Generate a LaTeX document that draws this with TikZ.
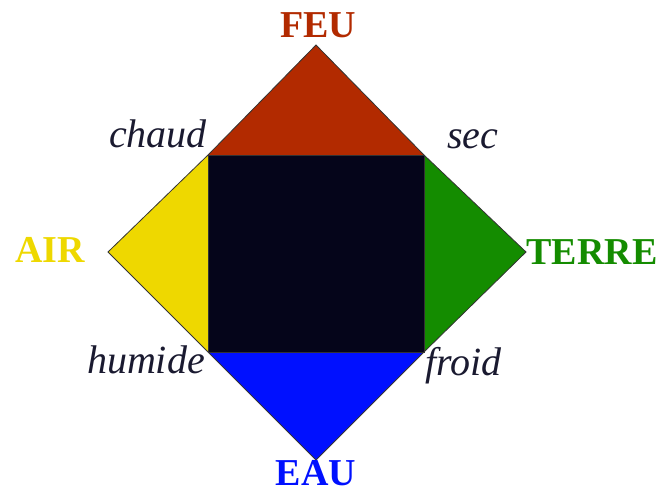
\documentclass[tikz,border=0pt]{standalone}
\usepackage{fontspec}
\setmainfont{Liberation Serif}
\usetikzlibrary{positioning}
\definecolor{FeuRed}{HTML}{B22A00}
\definecolor{AirYellow}{HTML}{EED800}
\definecolor{TerreGreen}{HTML}{148C00}
\definecolor{EauBlue}{HTML}{0010FF}
\definecolor{CoreDark}{HTML}{05051A}
\definecolor{QualInk}{HTML}{1A1A30}
\tikzset{
  element/.style={font=\fontsize{38}{40}\selectfont\bfseries, inner sep=0pt, anchor=base},
  quality/.style={font=\fontsize{40}{42}\selectfont\itshape, text=QualInk, inner sep=0pt, anchor=base},
  wedge/.style={draw=black!80, line width=0.8pt, line join=miter}
}

\begin{document}
\begin{tikzpicture}[x=1pt, y=-1pt]
\useasboundingbox (0,0) rectangle (658,494);

% corners of the inner square and outer apices
\coordinate (nw) at (208,155);
\coordinate (ne) at (424,155);
\coordinate (se) at (424,352);
\coordinate (sw) at (208,352);
\coordinate (top) at (316,45);
\coordinate (left) at (108,252);
\coordinate (right) at (526,252);
\coordinate (bottom) at (316,460);

\fill[FeuRed] (nw) -- (top) -- (ne) -- cycle;
\fill[AirYellow] (nw) -- (left) -- (sw) -- cycle;
\fill[TerreGreen] (ne) -- (right) -- (se) -- cycle;
\fill[EauBlue] (sw) -- (bottom) -- (se) -- cycle;
\fill[CoreDark] (nw) rectangle (se);
\draw[wedge] (nw) -- (top) -- (ne) -- (right) -- (se) -- (bottom) -- (sw) -- (left) -- cycle;
\draw[wedge] (nw) rectangle (se);

% the four elements
\node[element, text=FeuRed] (feu) at (318,38) {FEU};
\node[element, text=AirYellow] (air) at (50,262) {AIR};
\node[element, text=TerreGreen] (terre) at (592,265) {TERRE};
\node[element, text=EauBlue] (eau) at (316,485) {EAU};

% the four qualities
\node[quality, anchor=base east] (chaud) at (207,148) {chaud};
\node[quality, anchor=base west] (sec) at (447,149) {sec};
\node[quality, anchor=base east] (humide) at (205,373) {humide};
\node[quality, anchor=base west] (froid) at (425,375) {froid};
\end{tikzpicture}
\end{document}
